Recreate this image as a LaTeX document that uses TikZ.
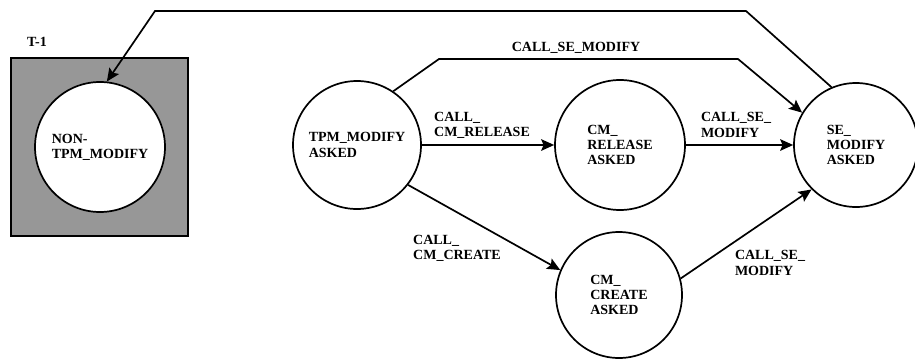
\documentclass[tikz,border=0pt]{standalone}
\usepackage{fontspec}
\setmainfont{Liberation Serif}
\usepackage{tikz}
\usetikzlibrary{positioning, arrows.meta}
\definecolor{cBoxGray}{HTML}{979797}

\tikzset{
  statenode/.style={draw, circle, fill=white, line width=0.85pt, inner sep=1pt,
    align=left, font=\fontsize{7}{7.6}\selectfont\bfseries},
  calllabel/.style={align=left, inner sep=0pt, font=\fontsize{7}{7.6}\selectfont\bfseries},
  flow/.style={line width=0.85pt, -{Stealth[length=6.5pt, width=5.8pt, inset=1.2pt]}},
}

\begin{document}
\begin{tikzpicture}[x=0.5pt, y=-0.5pt]
        \useasboundingbox (0,0) rectangle (915,359);
        \node[draw, fill=cBoxGray, line width=0.9pt, minimum width=88.5pt, minimum height=89pt] (tbox) at (99.5,147) {};
        \node[calllabel] (tlabel) at (37,42) {T-1};
        \node[statenode, minimum size=65pt] (nontpm) at (100,147) {NON-\\TPM\_MODIFY};
        \node[statenode, minimum size=64pt] (tpm) at (357,145) {TPM\_MODIFY\\ASKED};
        \node[statenode, minimum size=65pt] (cmrel) at (620,145) {CM\_\\RELEASE\\ASKED};
        \node[statenode, minimum size=63pt] (cmcre) at (619,295) {CM\_\\CREATE\\ASKED};
        \node[statenode, minimum size=62pt] (semod) at (856,145) {SE\_\\MODIFY\\ASKED};
        \coordinate (backr) at (746,11);
        \coordinate (backl) at (155,11);
        \draw[flow] (semod.113) -- (backr) -- (backl) -- (nontpm.84);
        \coordinate (topl) at (439,59);
        \coordinate (topr) at (738,59);
        \draw[flow] (tpm.56) -- (topl) -- (topr) -- (semod.149);
        \node[calllabel] (lsetop) at (576,48) {CALL\_SE\_MODIFY};
        \draw[flow] (tpm) -- (cmrel);
        \node[calllabel] (lrel) at (482,125) {CALL\_\\CM\_RELEASE};
        \draw[flow] (cmrel) -- (semod);
        \node[calllabel] (lsemid) at (736,125) {CALL\_SE\_\\MODIFY};
        \draw[flow] (tpm.-38) -- (cmcre.157);
        \node[calllabel] (lcre) at (457,248) {CALL\_\\CM\_CREATE};
        \draw[flow] (cmcre.15) -- (semod.225);
        \node[calllabel] (lsebot) at (770,263) {CALL\_SE\_\\MODIFY};
      \end{tikzpicture}
\end{document}
